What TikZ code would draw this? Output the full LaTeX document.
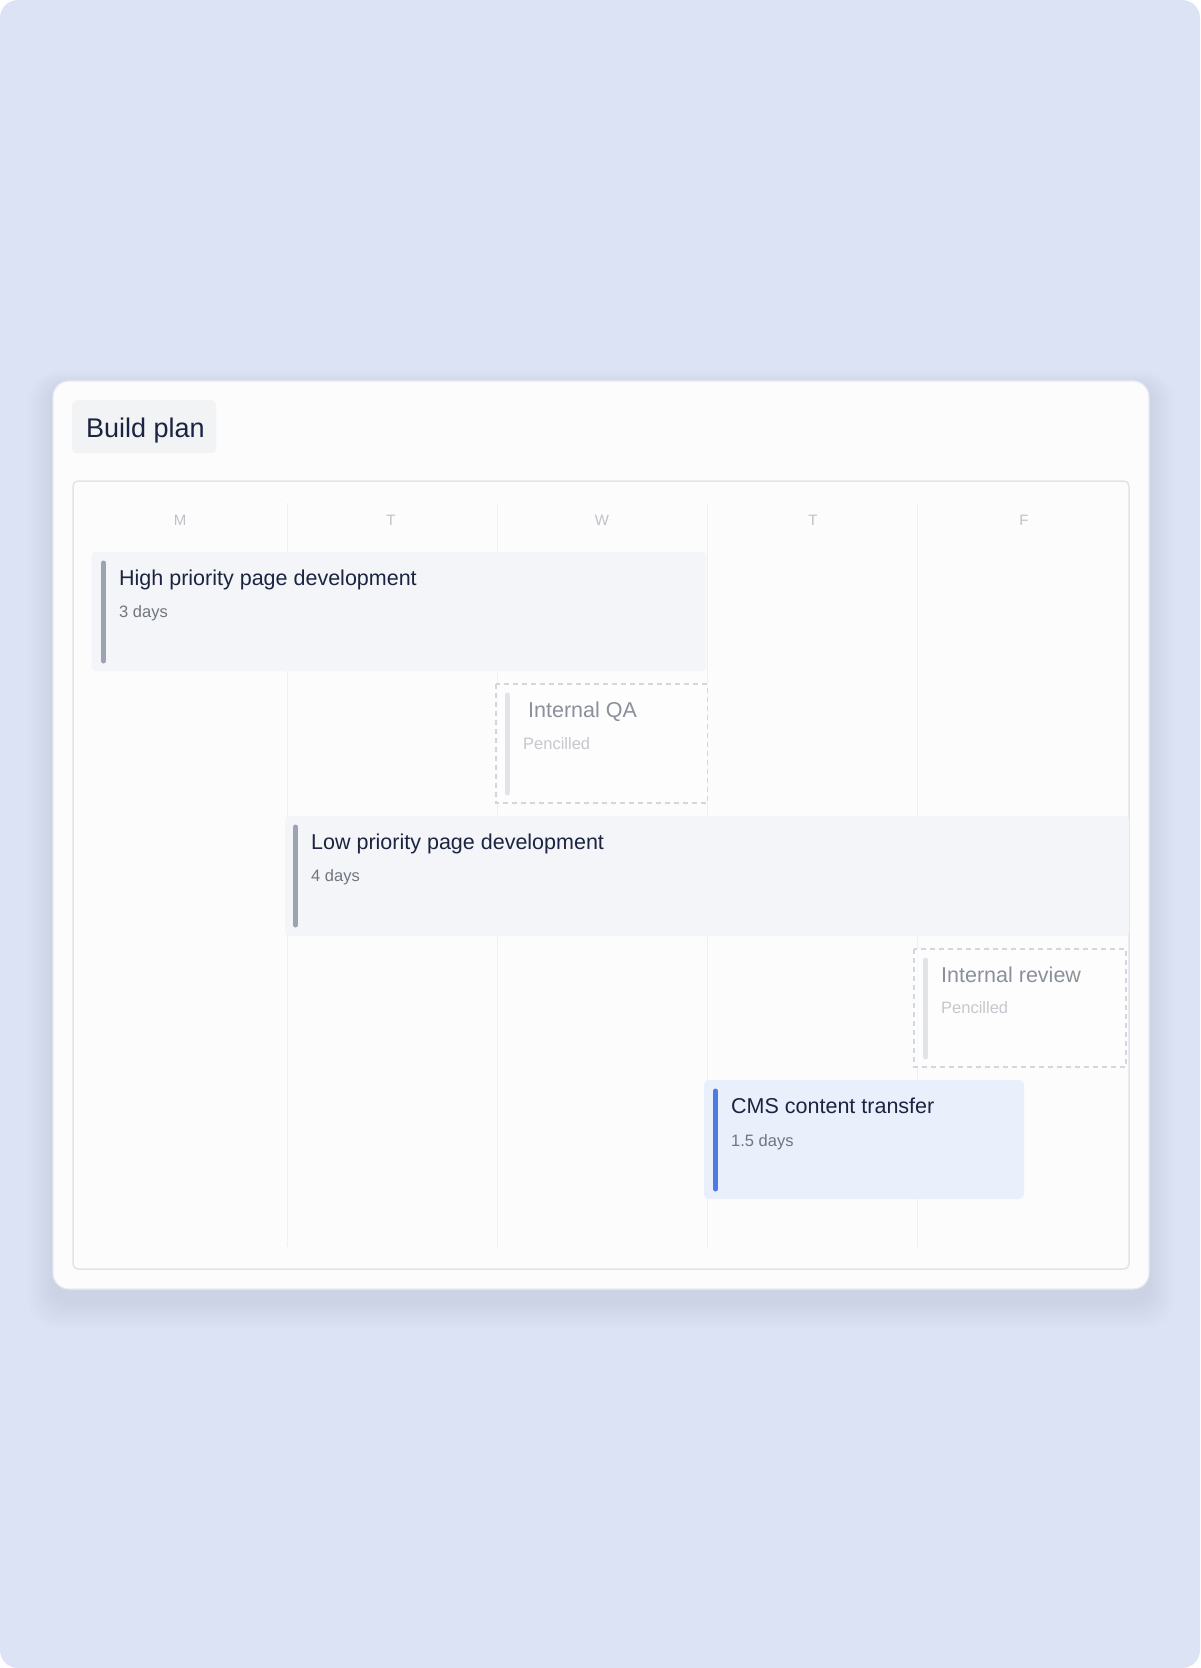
\documentclass[tikz,border=0pt]{standalone}
\usepackage{fontspec}
\setmainfont{Liberation Sans}
\definecolor{bgc}{HTML}{DCE3F4}
\definecolor{shadowc}{HTML}{8F9BC0}
\definecolor{cardc}{HTML}{FCFCFD}
\definecolor{cardb}{HTML}{E7EAF1}
\definecolor{titlebox}{HTML}{F2F3F5}
\definecolor{navy}{HTML}{1B2440}
\definecolor{gridb}{HTML}{E2E4E8}
\definecolor{divc}{HTML}{EEF0F2}
\definecolor{dayc}{HTML}{BEC2C8}
\definecolor{barfill}{HTML}{F3F5F8}
\definecolor{accgray}{HTML}{9EA3B0}
\definecolor{subc}{HTML}{70767F}
\definecolor{penc}{HTML}{8B909B}
\definecolor{pensub}{HTML}{C5C8CE}
\definecolor{penacc}{HTML}{E3E4E7}
\definecolor{dashc}{HTML}{D3D6DC}
\definecolor{cmsfill}{HTML}{E8EEFB}
\definecolor{cmsacc}{HTML}{4F7AE6}
\tikzset{
  daylbl/.style={anchor=base, text=dayc, font=\fontsize{15}{17}\selectfont},
  tasktitle/.style={anchor=base west, text=navy, font=\fontsize{21.5}{24}\selectfont, inner sep=0pt},
  tasksub/.style={anchor=base west, text=subc, font=\fontsize{16.5}{19}\selectfont, inner sep=0pt},
  pentitle/.style={anchor=base west, text=penc, font=\fontsize{21.5}{24}\selectfont, inner sep=0pt},
  pensubt/.style={anchor=base west, text=pensub, font=\fontsize{16.5}{19}\selectfont, inner sep=0pt},
  barbox/.style={fill=barfill, rounded corners=4pt},
  penbox/.style={draw=dashc, line width=1.2pt, dash pattern=on 5pt off 4pt, fill=white, fill opacity=0.6, draw opacity=1},
  accbar/.style={line width=5pt, line cap=round},
  divline/.style={draw=divc, line width=1pt},
}
\begin{document}
\begin{tikzpicture}[x=1pt,y=-1pt]
\useasboundingbox (0,0) rectangle (1200,1668);
% page background
\fill[bgc, rounded corners=18pt] (0,0) rectangle (1200,1668);
% soft shadow of the card
\foreach \i in {1,...,16} {
  \fill[shadowc, opacity=0.012, rounded corners={16pt+\i pt}] (53-\i*1.6,381+6-\i*1.0) rectangle (1149+\i*1.6,1289+12+\i*1.8);
}
% card
\fill[cardc, rounded corners=16pt] (53,381) rectangle (1149,1289);
\draw[cardb, line width=1.2pt, rounded corners=16pt] (53,381) rectangle (1149,1289);
% title box
\node[fill=titlebox, rounded corners=5pt, minimum width=144pt, minimum height=53pt, anchor=north west, inner sep=0pt] (titlebg) at (72,400) {};
\node[anchor=base west, text=navy, font=\fontsize{27}{30}\selectfont, inner sep=0pt] (title) at (86,437) {Build plan};
% grid frame
\draw[gridb, line width=1.5pt, rounded corners=5pt, fill=cardc] (73,481) rectangle (1129,1269);
% column dividers
\coordinate (d1t) at (287,503); \coordinate (d1b) at (287,1247);
\coordinate (d2t) at (497,503); \coordinate (d2b) at (497,1247);
\coordinate (d3t) at (707,503); \coordinate (d3b) at (707,1247);
\coordinate (d4t) at (917,503); \coordinate (d4b) at (917,1247);
\draw[divline] (d1t) -- (d1b);
\draw[divline] (d2t) -- (d2b);
\draw[divline] (d3t) -- (d3b);
\draw[divline] (d4t) -- (d4b);
% day labels
\node[daylbl] (dM) at (180,525) {M};
\node[daylbl] (dT1) at (391,525) {T};
\node[daylbl] (dW) at (602,525) {W};
\node[daylbl] (dT2) at (813,525) {T};
\node[daylbl] (dF) at (1024,525) {F};
% High priority
\fill[barbox] (91.5,552) rectangle (706,671);
\coordinate (a1t) at (103.5,563); \coordinate (a1b) at (103.5,661);
\draw[accbar, accgray] (a1t) -- (a1b);
\node[tasktitle] (t1) at (119,585) {High priority page development};
\node[tasksub] (s1) at (119,617) {3 days};
% Internal QA
\draw[penbox] (496,684) rectangle (707.5,803);
\coordinate (a2t) at (507,695); \coordinate (a2b) at (507,793);
\draw[accbar, penacc] (a2t) -- (a2b);
\node[pentitle] (t2) at (528,717) {Internal QA};
\node[pensubt] (s2) at (523,749) {Pencilled};
% Low priority
\fill[barbox] (285,816) rectangle (1129,936);
\coordinate (a3t) at (295.5,827); \coordinate (a3b) at (295.5,925);
\draw[accbar, accgray] (a3t) -- (a3b);
\node[tasktitle] (t3) at (311,849) {Low priority page development};
\node[tasksub] (s3) at (311,881) {4 days};
% Internal review
\draw[penbox] (914,949) rectangle (1126,1067);
\coordinate (a4t) at (925.5,960); \coordinate (a4b) at (925.5,1057);
\draw[accbar, penacc] (a4t) -- (a4b);
\node[pentitle] (t4) at (941,982) {Internal review};
\node[pensubt] (s4) at (941,1013) {Pencilled};
% CMS content transfer
\fill[cmsfill, rounded corners=5pt, fill opacity=0.9] (704,1080) rectangle (1024,1199);
\coordinate (a5t) at (715.5,1091); \coordinate (a5b) at (715.5,1189);
\draw[accbar, cmsacc] (a5t) -- (a5b);
\node[tasktitle] (t5) at (731,1113) {CMS content transfer};
\node[tasksub] (s5) at (731,1146) {1.5 days};
\end{tikzpicture}
\end{document}
